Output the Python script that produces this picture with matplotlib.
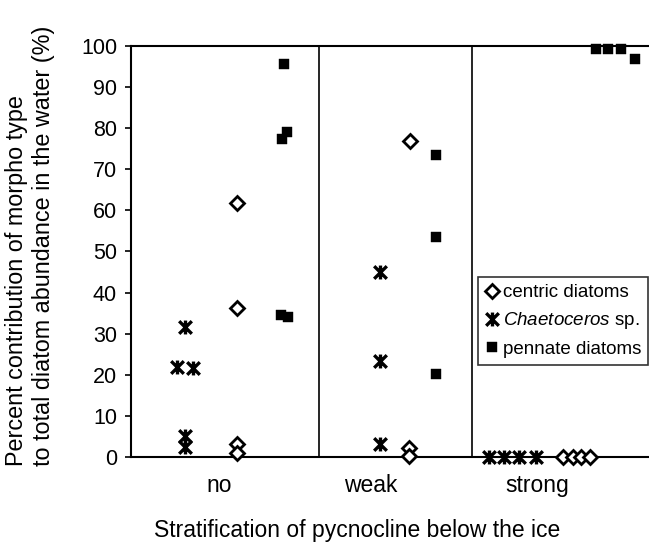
import numpy as np
import matplotlib.pyplot as plt
from matplotlib.path import Path

plt.rcParams['font.family'] = ['Liberation Sans', 'DejaVu Sans']
plt.rcParams['mathtext.fontset'] = 'custom'
plt.rcParams['mathtext.rm'] = 'Liberation Sans'
plt.rcParams['mathtext.it'] = 'Liberation Sans:italic'

# x positions are arbitrary units along the axis (0..100)
centric_x = [20.5, 20.5, 20.5, 20.5, 53.8, 53.6, 53.6, 83.4, 85.3, 86.8, 88.6]
centric_y = [61.8, 36.3, 3.2, 1.0, 76.8, 2.2, 0.3, 0, 0, 0, 0]

chaeto_x = [10.4, 8.9, 12.0, 10.4, 10.4, 48.0, 48.0, 48.0, 69.1, 72.0, 74.9, 78.1]
chaeto_y = [31.6, 22.0, 21.6, 5.2, 2.4, 45.1, 23.3, 3.2, 0, 0, 0, 0]

pennate_x = [29.6, 30.2, 29.2, 29.0, 30.4, 58.8, 58.8, 58.8, 89.7, 92.1, 94.6, 97.3]
pennate_y = [95.6, 79.0, 77.3, 34.6, 34.0, 73.4, 53.5, 20.2, 99.3, 99.3, 99.3, 96.9]

group_labels = ['no', 'weak', 'strong']
group_pos = [17.0, 46.2, 78.5]
separators = [36.2, 65.8]

# X with a vertical bar, like the old spreadsheet star marker
star = Path([(-1, -1), (1, 1), (-1, 1), (1, -1), (0, -1.1), (0, 1.1)],
            [Path.MOVETO, Path.LINETO, Path.MOVETO, Path.LINETO, Path.MOVETO, Path.LINETO])

fig = plt.figure(figsize=(6.49, 5.43), dpi=100)
ax = fig.add_axes([131 / 649, 1 - 457 / 543, 518 / 649, 411 / 543])

ax.plot(centric_x, centric_y, ls='none', marker='D', ms=7, mfc='white', mec='black',
        mew=2, label='centric diatoms', clip_on=False, zorder=3)
ax.plot(chaeto_x, chaeto_y, ls='none', marker=star, ms=10, mec='black', mew=2.4,
        label='$\\mathit{Chaetoceros}$ sp.', clip_on=False, zorder=3)
ax.plot(pennate_x, pennate_y, ls='none', marker='s', ms=7.8, mfc='black', mec='black',
        mew=0.3, label='pennate diatoms', clip_on=False, zorder=3)

for s in separators:
    ax.axvline(s, color='black', lw=1.2)

ax.set_xlim(0, 100)
ax.set_ylim(0, 100)
ax.set_yticks(np.arange(0, 101, 10))
ax.tick_params(axis='y', labelsize=15.5, direction='out', length=4, width=1.2, pad=6)
ax.set_xticks(group_pos)
ax.set_xticklabels(group_labels)
ax.tick_params(axis='x', labelsize=16.5, length=0, pad=12)

for sp in ['left', 'bottom', 'top']:
    ax.spines[sp].set_linewidth(1.5)
ax.spines['right'].set_visible(False)

leg = ax.legend(loc='upper left', bbox_to_anchor=(0.669, 0.437), borderaxespad=0,
                fontsize=13.5, frameon=True, fancybox=False, edgecolor='black',
                handletextpad=0.2, handlelength=0.8, borderpad=0.35, labelspacing=0.5)
leg.get_frame().set_linewidth(1.2)

fig.text(357 / 649, 1 - 530 / 543, 'Stratification of pycnocline below the ice',
         ha='center', va='center', fontsize=16.5)
fig.text(30 / 649, 1 - 466 / 543,
         'Percent contribution of morpho type\nto total diatom abundance in the water (%)',
         ha='center', va='bottom', rotation=90, multialignment='left', fontsize=16.8,
         linespacing=1.2)

fig.savefig('out.png', dpi=100)
